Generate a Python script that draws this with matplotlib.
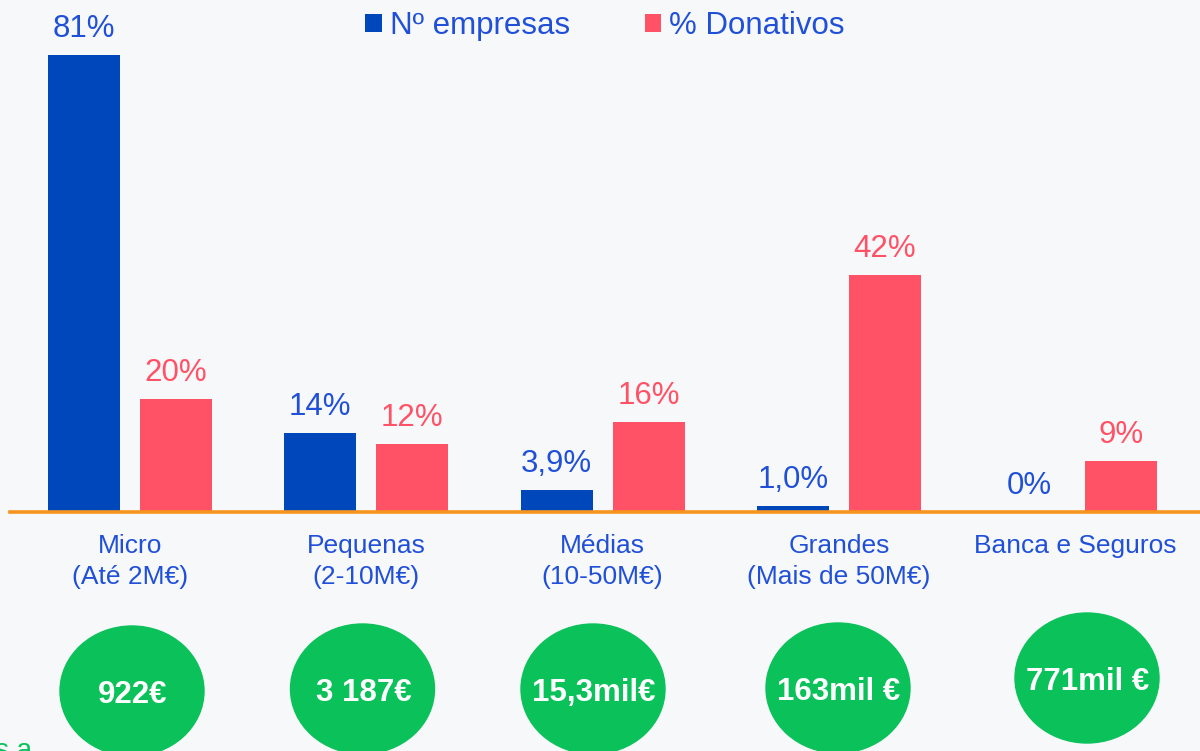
import matplotlib.pyplot as plt
from matplotlib.patches import Ellipse

plt.rcParams['font.family'] = ['Liberation Sans', 'DejaVu Sans']

# data
categorias = ['Micro\n(Até 2M€)', 'Pequenas\n(2-10M€)', 'Médias\n(10-50M€)',
              'Grandes\n(Mais de 50M€)', 'Banca e Seguros']
n_empresas = [81, 14, 3.9, 1.0, 0]
donativos = [20, 12, 16, 42, 9]
n_empresas_txt = ['81%', '14%', '3,9%', '1,0%', '0%']
donativos_txt = ['20%', '12%', '16%', '42%', '9%']
donativo_medio = ['922€', '3 187€', '15,3mil€', '163mil €', '771mil €']
series = ['Nº empresas', '% Donativos']

# colours
azul = '#0047BB'
vermelho = '#FF5266'
texto_azul = '#2150D8'
laranja = '#F7941D'
verde = '#0BC15A'
fundo = '#F7F8FA'

# layout (pixels)
W, H = 1200, 751
base_px = 512
px_pct = 5.64
x0_px, step_px = 129.75, 236.4
bar_w = 72 / step_px
off = 46 / step_px

fig = plt.figure(figsize=(W / 100, H / 100), dpi=100, facecolor=fundo)
ax = fig.add_axes([0, 0, 1, 1], facecolor=fundo)
ax.set_xlim(-x0_px / step_px, (W - x0_px) / step_px)
ax.set_ylim(-(H - base_px) / px_pct, base_px / px_pct)

xs = list(range(len(categorias)))
b1 = ax.bar([x - off for x in xs], n_empresas, bar_w, color=azul, zorder=2)
b2 = ax.bar([x + off for x in xs], donativos, bar_w, color=vermelho, zorder=2)

for x, v, t in zip(xs, n_empresas, n_empresas_txt):
    ax.annotate(t, (x - off, v), xytext=(0, 13), textcoords='offset points',
                ha='center', va='baseline', fontsize=22.5, color=texto_azul)
for x, v, t in zip(xs, donativos, donativos_txt):
    ax.annotate(t, (x + off, v), xytext=(0, 13), textcoords='offset points',
                ha='center', va='baseline', fontsize=22.5, color=vermelho)

ax.axhline(0, xmin=10 / W, xmax=1, color=laranja, lw=2.6, zorder=3)

# category labels hang from the zero line
ax.spines['bottom'].set_position(('data', 0))
ax.set_xticks(xs, categorias)
ax.tick_params(axis='x', length=0, pad=16, labelsize=19, labelcolor=texto_azul)
for lab in ax.get_xticklabels():
    lab.set_linespacing(1.37)
ax.set_yticks([])
for s in ax.spines.values():
    s.set_visible(False)

ax.legend([b1, b2], series, loc='upper center', bbox_to_anchor=(605 / W, 1 - 11 / H),
          ncol=2, frameon=False, fontsize=22.5, handlelength=0.52, handleheight=0.52,
          handletextpad=0.26, columnspacing=2.4, borderpad=0, borderaxespad=0,
          labelcolor=texto_azul)

# green ellipses with average donation
ov = fig.add_axes([0, 0, 1, 1], facecolor='none')
ov.set_xlim(0, W)
ov.set_ylim(H, 0)
ov.axis('off')
centros = [(132, 691), (362.5, 689), (593, 689), (838, 688), (1087, 678)]
for (cx, cy), t in zip(centros, donativo_medio):
    ov.add_patch(Ellipse((cx, cy), 144, 130, color=verde))
    ov.text(cx + 1, cy + 12, t, ha='center', va='baseline', fontsize=22.5,
            fontweight='bold', color='white')

# fragment of a caption cut by the bottom edge, as in the original
ov.text(-5, 758, 's a', ha='left', va='baseline', fontsize=20, color=verde)

fig.savefig('out.png', dpi=100, facecolor=fundo)
